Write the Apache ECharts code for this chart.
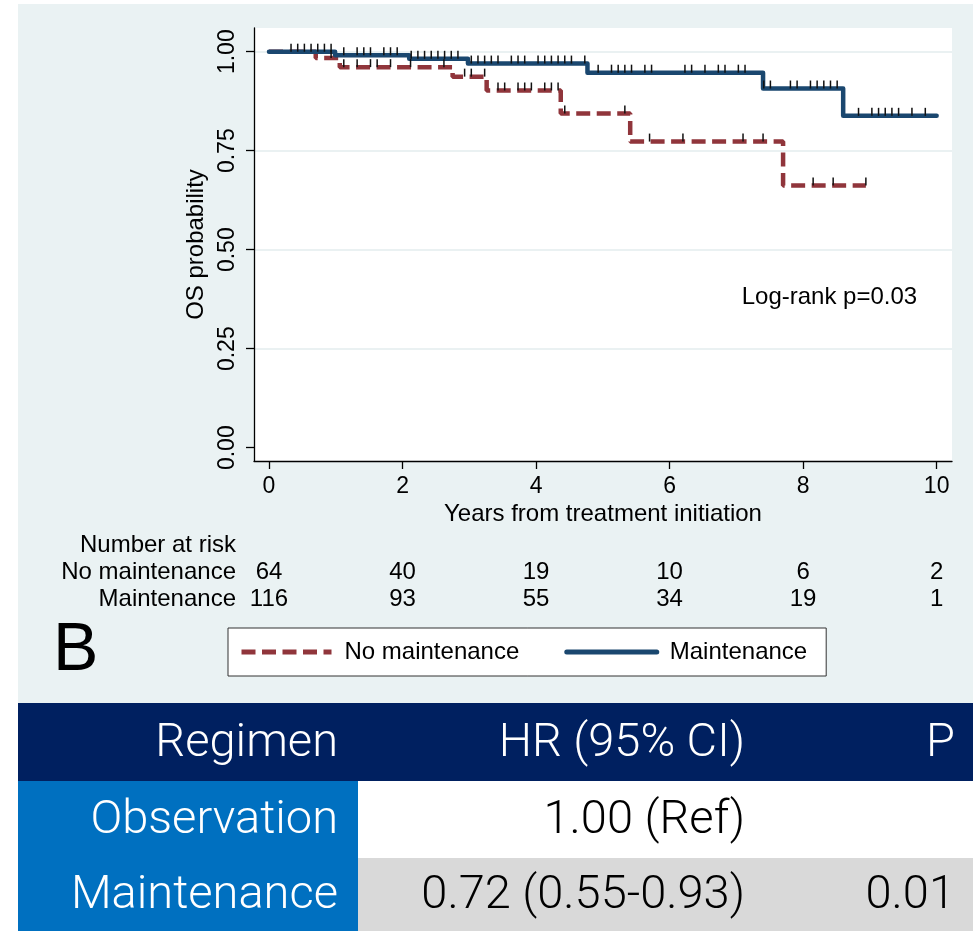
<!DOCTYPE html>
<html>
<head>
<meta charset="utf-8">
<script src="https://cdn.jsdelivr.net/npm/echarts@6/dist/echarts.min.js"></script>
<style>
html,body{margin:0;padding:0;background:#fff;}
#chart{width:973px;height:931px;}
</style>
</head>
<body>
<div id="chart"></div>
<script>
// ---------------- data ----------------
const xTicks = [0, 2, 4, 6, 8, 10];
const yTicks = [0, 0.25, 0.5, 0.75, 1];
const groupNames = ['No maintenance', 'Maintenance'];

// Kaplan-Meier step functions (time in years, survival probability)
const noMaintTimes = [0, 0.70, 1.06, 2.75, 3.26, 4.37, 5.41, 7.70, 8.94];
const noMaintSurv  = [1.0, 0.984, 0.961, 0.937, 0.902, 0.844, 0.773, 0.662, 0.662];
const maintTimes   = [0, 0.99, 2.10, 2.98, 4.77, 7.40, 8.60, 10.0];
const maintSurv    = [1.0, 0.991, 0.982, 0.970, 0.947, 0.907, 0.838, 0.838];

// censoring times
const noMaintCensor = [0.93, 1.12, 1.32, 1.52, 1.62, 1.82, 2.12, 2.62,
  2.93, 3.03, 3.23, 3.43, 3.53, 3.73, 3.83, 3.93, 4.13, 4.23, 4.33,
  4.43, 5.33, 5.70, 6.20, 7.10, 7.40, 8.15, 8.45, 8.94];
const maintCensor = [0.33, 0.43, 0.53, 0.63, 0.73, 0.83, 0.93,
  1.12, 1.32, 1.42, 1.52, 1.72, 1.82, 1.92,
  2.13, 2.23, 2.33, 2.43, 2.53, 2.63, 2.73, 2.83,
  3.03, 3.13, 3.23, 3.33, 3.43, 3.63, 3.73, 3.83, 4.03, 4.13, 4.23, 4.33, 4.43, 4.53, 4.73,
  4.93, 5.13, 5.23, 5.33, 5.43, 5.63, 5.73, 6.23, 6.33, 6.53, 6.73, 6.83, 7.03, 7.13,
  7.41, 7.51, 7.81, 7.91, 8.11, 8.21, 8.31, 8.41, 8.51,
  8.83, 9.03, 9.13, 9.23, 9.33, 9.43, 9.63, 9.83];

// number at risk
const riskTimes = [0, 2, 4, 6, 8, 10];
const riskNoMaint = [64, 40, 19, 10, 6, 2];
const riskMaint = [116, 93, 55, 34, 19, 1];
const riskTitle = 'Number at risk';

// annotations
const logRankText = 'Log-rank p=0.03';
const logRankAt = [7.08, 0.38];
const panelLabel = 'B';

// HR table
const tableHeader = ['Regimen', 'HR (95% CI)', 'P'];
const tableRow1 = ['Observation', '1.00 (Ref)', ''];
const tableRow2 = ['Maintenance', '0.72 (0.55-0.93)', '0.01'];

// ---------------- styles ----------------
const FONT = "'Liberation Sans', Arial, Helvetica, sans-serif";
const TFONT = "Roboto, 'Liberation Sans', Arial, sans-serif";
const RED = '#90353b';
const BLUE = '#1a476f';
const PANEL = '#eaf2f3';

function survAt(times, surv, t) {
  let v = surv[0];
  for (let i = 0; i < times.length; i++) { if (times[i] <= t) v = surv[i]; }
  return v;
}
const toPts = (times, surv) => times.map((t, i) => [t, surv[i]]);
const censorPts = (c, times, surv) => c.map(t => [t, survAt(times, surv, t)]);

const chart = echarts.init(document.getElementById('chart'), null, {renderer: 'canvas'});

const option = {
  animation: false,
  backgroundColor: PANEL,
  textStyle: {fontFamily: FONT},
  grid: {
    left: 254, right: 21, top: 28, bottom: 470,
    show: true, backgroundColor: '#ffffff', borderWidth: 0
  },
  legend: {
    data: groupNames,
    left: 228, top: 628,
    itemWidth: 90, itemHeight: 14, itemGap: 45,
    padding: [12, 19, 12, 11],
    backgroundColor: '#ffffff', borderColor: '#333', borderWidth: 1,
    borderRadius: 0,
    itemStyle: {opacity: 0},
    lineStyle: {width: 5},
    textStyle: {fontSize: 24, color: '#000', fontFamily: FONT, padding: [0, 0, 0, 8]}
  },
  xAxis: {
    type: 'value', min: -0.2247, max: 10.23,
    axisLine: {show: true, onZero: false, lineStyle: {color: '#000', width: 1.3}},
    axisTick: {show: true, length: 8, customValues: xTicks, lineStyle: {color: '#000', width: 1.3}},
    axisLabel: {customValues: xTicks, fontSize: 23, color: '#000', margin: 14, fontFamily: FONT},
    splitLine: {show: false},
    name: 'Years from treatment initiation', nameLocation: 'middle', nameGap: 41,
    nameTextStyle: {fontSize: 24, color: '#000', fontFamily: FONT}
  },
  yAxis: {
    type: 'value', min: -0.0336, max: 1.0598,
    axisLine: {show: true, onZero: false, lineStyle: {color: '#000', width: 1.3}},
    axisTick: {show: true, length: 8, customValues: yTicks, lineStyle: {color: '#000', width: 1.3}},
    axisLabel: {customValues: yTicks, rotate: 90, fontSize: 23, color: '#000', margin: 15,
      fontFamily: FONT, formatter: v => Number(v).toFixed(2)},
    splitLine: {show: true, lineStyle: {color: ['rgba(0,0,0,0)', '#e3ecee', '#e3ecee', '#e3ecee', '#e3ecee'], width: 1.5}},
    name: 'OS probability', nameLocation: 'middle', nameGap: 42, nameRotate: 90,
    nameTextStyle: {fontSize: 24, color: '#000', fontFamily: FONT}
  },
  series: [
    {
      name: groupNames[0], type: 'line', step: 'end', symbol: 'none', z: 2,
      data: toPts(noMaintTimes, noMaintSurv),
      lineStyle: {color: RED, width: 4.5, type: [14, 6.5], cap: 'butt'},
      itemStyle: {color: RED}
    },
    {
      name: groupNames[1], type: 'line', step: 'end', symbol: 'none', z: 3,
      data: toPts(maintTimes, maintSurv),
      lineStyle: {color: BLUE, width: 4.5, cap: 'round', join: 'round'},
      itemStyle: {color: BLUE}
    },
    {
      name: 'censor-no', type: 'scatter', z: 5, silent: true,
      data: censorPts(noMaintCensor, noMaintTimes, noMaintSurv),
      symbol: 'rect', symbolSize: [1.5, 8], symbolOffset: [0, -4],
      itemStyle: {color: '#111', opacity: 1}
    },
    {
      name: 'censor-m', type: 'scatter', z: 5, silent: true,
      data: censorPts(maintCensor, maintTimes, maintSurv),
      symbol: 'rect', symbolSize: [1.5, 8], symbolOffset: [0, -4],
      itemStyle: {color: '#111', opacity: 1}
    }
  ]
};
chart.setOption(option);

// ---------- graphic: at-risk table, annotations, HR table ----------
const g = [];
g.push({type: 'rect', shape: {x: 0, y: 0, width: 18, height: 931}, style: {fill: '#fff'}, silent: true});
g.push({type: 'rect', shape: {x: 0, y: 0, width: 973, height: 4}, style: {fill: '#fff'}, silent: true});

const rowY = [572, 599];
const riskRows = [riskNoMaint, riskMaint];
g.push({type: 'text', x: 236, y: 545, style: {text: riskTitle, font: '24px ' + FONT, fill: '#000', align: 'right', verticalAlign: 'middle'}});
groupNames.forEach((nm, r) => {
  g.push({type: 'text', x: 236, y: rowY[r], style: {text: nm, font: '24px ' + FONT, fill: '#000', align: 'right', verticalAlign: 'middle'}});
  riskTimes.forEach((t, i) => {
    const px = chart.convertToPixel({gridIndex: 0}, [t, 0]);
    g.push({type: 'text', x: px[0], y: rowY[r], style: {text: String(riskRows[r][i]), font: '24px ' + FONT, fill: '#000', align: 'center', verticalAlign: 'middle'}});
  });
});

const lr = chart.convertToPixel({gridIndex: 0}, logRankAt);
g.push({type: 'text', x: lr[0], y: lr[1], style: {text: logRankText, font: '24px ' + FONT, fill: '#000', align: 'left', verticalAlign: 'middle'}});

g.push({type: 'text', x: 53, y: 651, style: {text: panelLabel, font: '68px ' + FONT, fill: '#000', align: 'left', verticalAlign: 'middle'}});

// HR table
const tTop = 703, hH = 78, r1H = 77, r2H = 73;
g.push({type: 'rect', shape: {x: 18, y: tTop, width: 955, height: hH}, style: {fill: '#002060'}, silent: true});
g.push({type: 'rect', shape: {x: 18, y: tTop + hH, width: 340, height: r1H + r2H}, style: {fill: '#0070c0'}, silent: true});
g.push({type: 'rect', shape: {x: 358, y: tTop + hH, width: 615, height: r1H}, style: {fill: '#ffffff'}, silent: true});
g.push({type: 'rect', shape: {x: 358, y: tTop + hH + r1H, width: 615, height: r2H}, style: {fill: '#d9d9d9'}, silent: true});
const colRight = [338, 745, 955];
const rowsT = [tableHeader, tableRow1, tableRow2];
const rowCY = [tTop + hH / 2 + 2, tTop + hH + r1H / 2 + 2, tTop + hH + r1H + r2H / 2 + 2];
rowsT.forEach((row, r) => {
  row.forEach((txt, c) => {
    if (!txt) return;
    const white = (r === 0) || (c === 0);
    g.push({type: 'text', x: colRight[c], y: rowCY[r], style: {text: txt, font: '300 47px ' + TFONT, fill: white ? '#fff' : '#000', align: 'right', verticalAlign: 'middle'}});
  });
});

chart.setOption({graphic: {elements: g}});
</script>
</body>
</html>
